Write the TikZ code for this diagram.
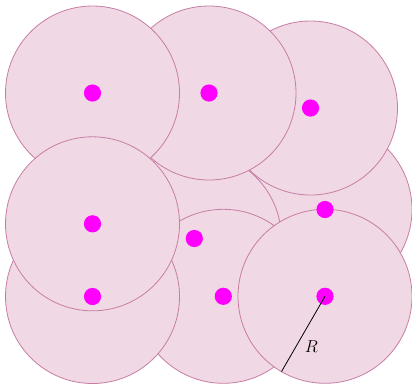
\documentclass[tikz,border=0pt]{standalone}
\usetikzlibrary{calc}
\definecolor{discfill}{RGB}{240,216,228}
\definecolor{discedge}{RGB}{200,125,165}
\definecolor{dotcol}{RGB}{255,0,255}
\tikzset{
  disc/.style={fill=discfill, draw=discedge, line width=0.8pt},
  centerdot/.style={fill=dotcol},
  radiusline/.style={draw=black, line width=0.8pt},
  rlabel/.style={inner sep=0pt, font=\fontsize{18}{22}\selectfont}
}
\begin{document}
\begin{tikzpicture}[x=1pt,y=-1pt]
\useasboundingbox (0,0) rectangle (412,384);
% centres
\coordinate (A) at (92.5,93);
\coordinate (B) at (209,93);
\coordinate (C) at (310.5,108);
\coordinate (D) at (325,209.5);
\coordinate (E) at (194.3,238.5);
\coordinate (F) at (92.5,223.8);
\coordinate (G) at (92.5,296.5);
\coordinate (H) at (223.3,296.3);
\coordinate (I) at (325,296.3);
% discs in stacking order
\foreach \c in {D,E,C,B,A,H,I,G,F}{
  \path[disc] (\c) circle[radius=87];
}
% centre dots
\foreach \c in {A,B,C,D,E,F,G,H,I}{
  \fill[centerdot] (\c) circle[radius=8.6];
}
% radius
\coordinate (Rend) at ($(I)+(-43.5,75.3)$);
\draw[radiusline] (I) -- (Rend);
\node[rlabel] (Rlab) at (311.5,346.5) {$R$};
\end{tikzpicture}
\end{document}
